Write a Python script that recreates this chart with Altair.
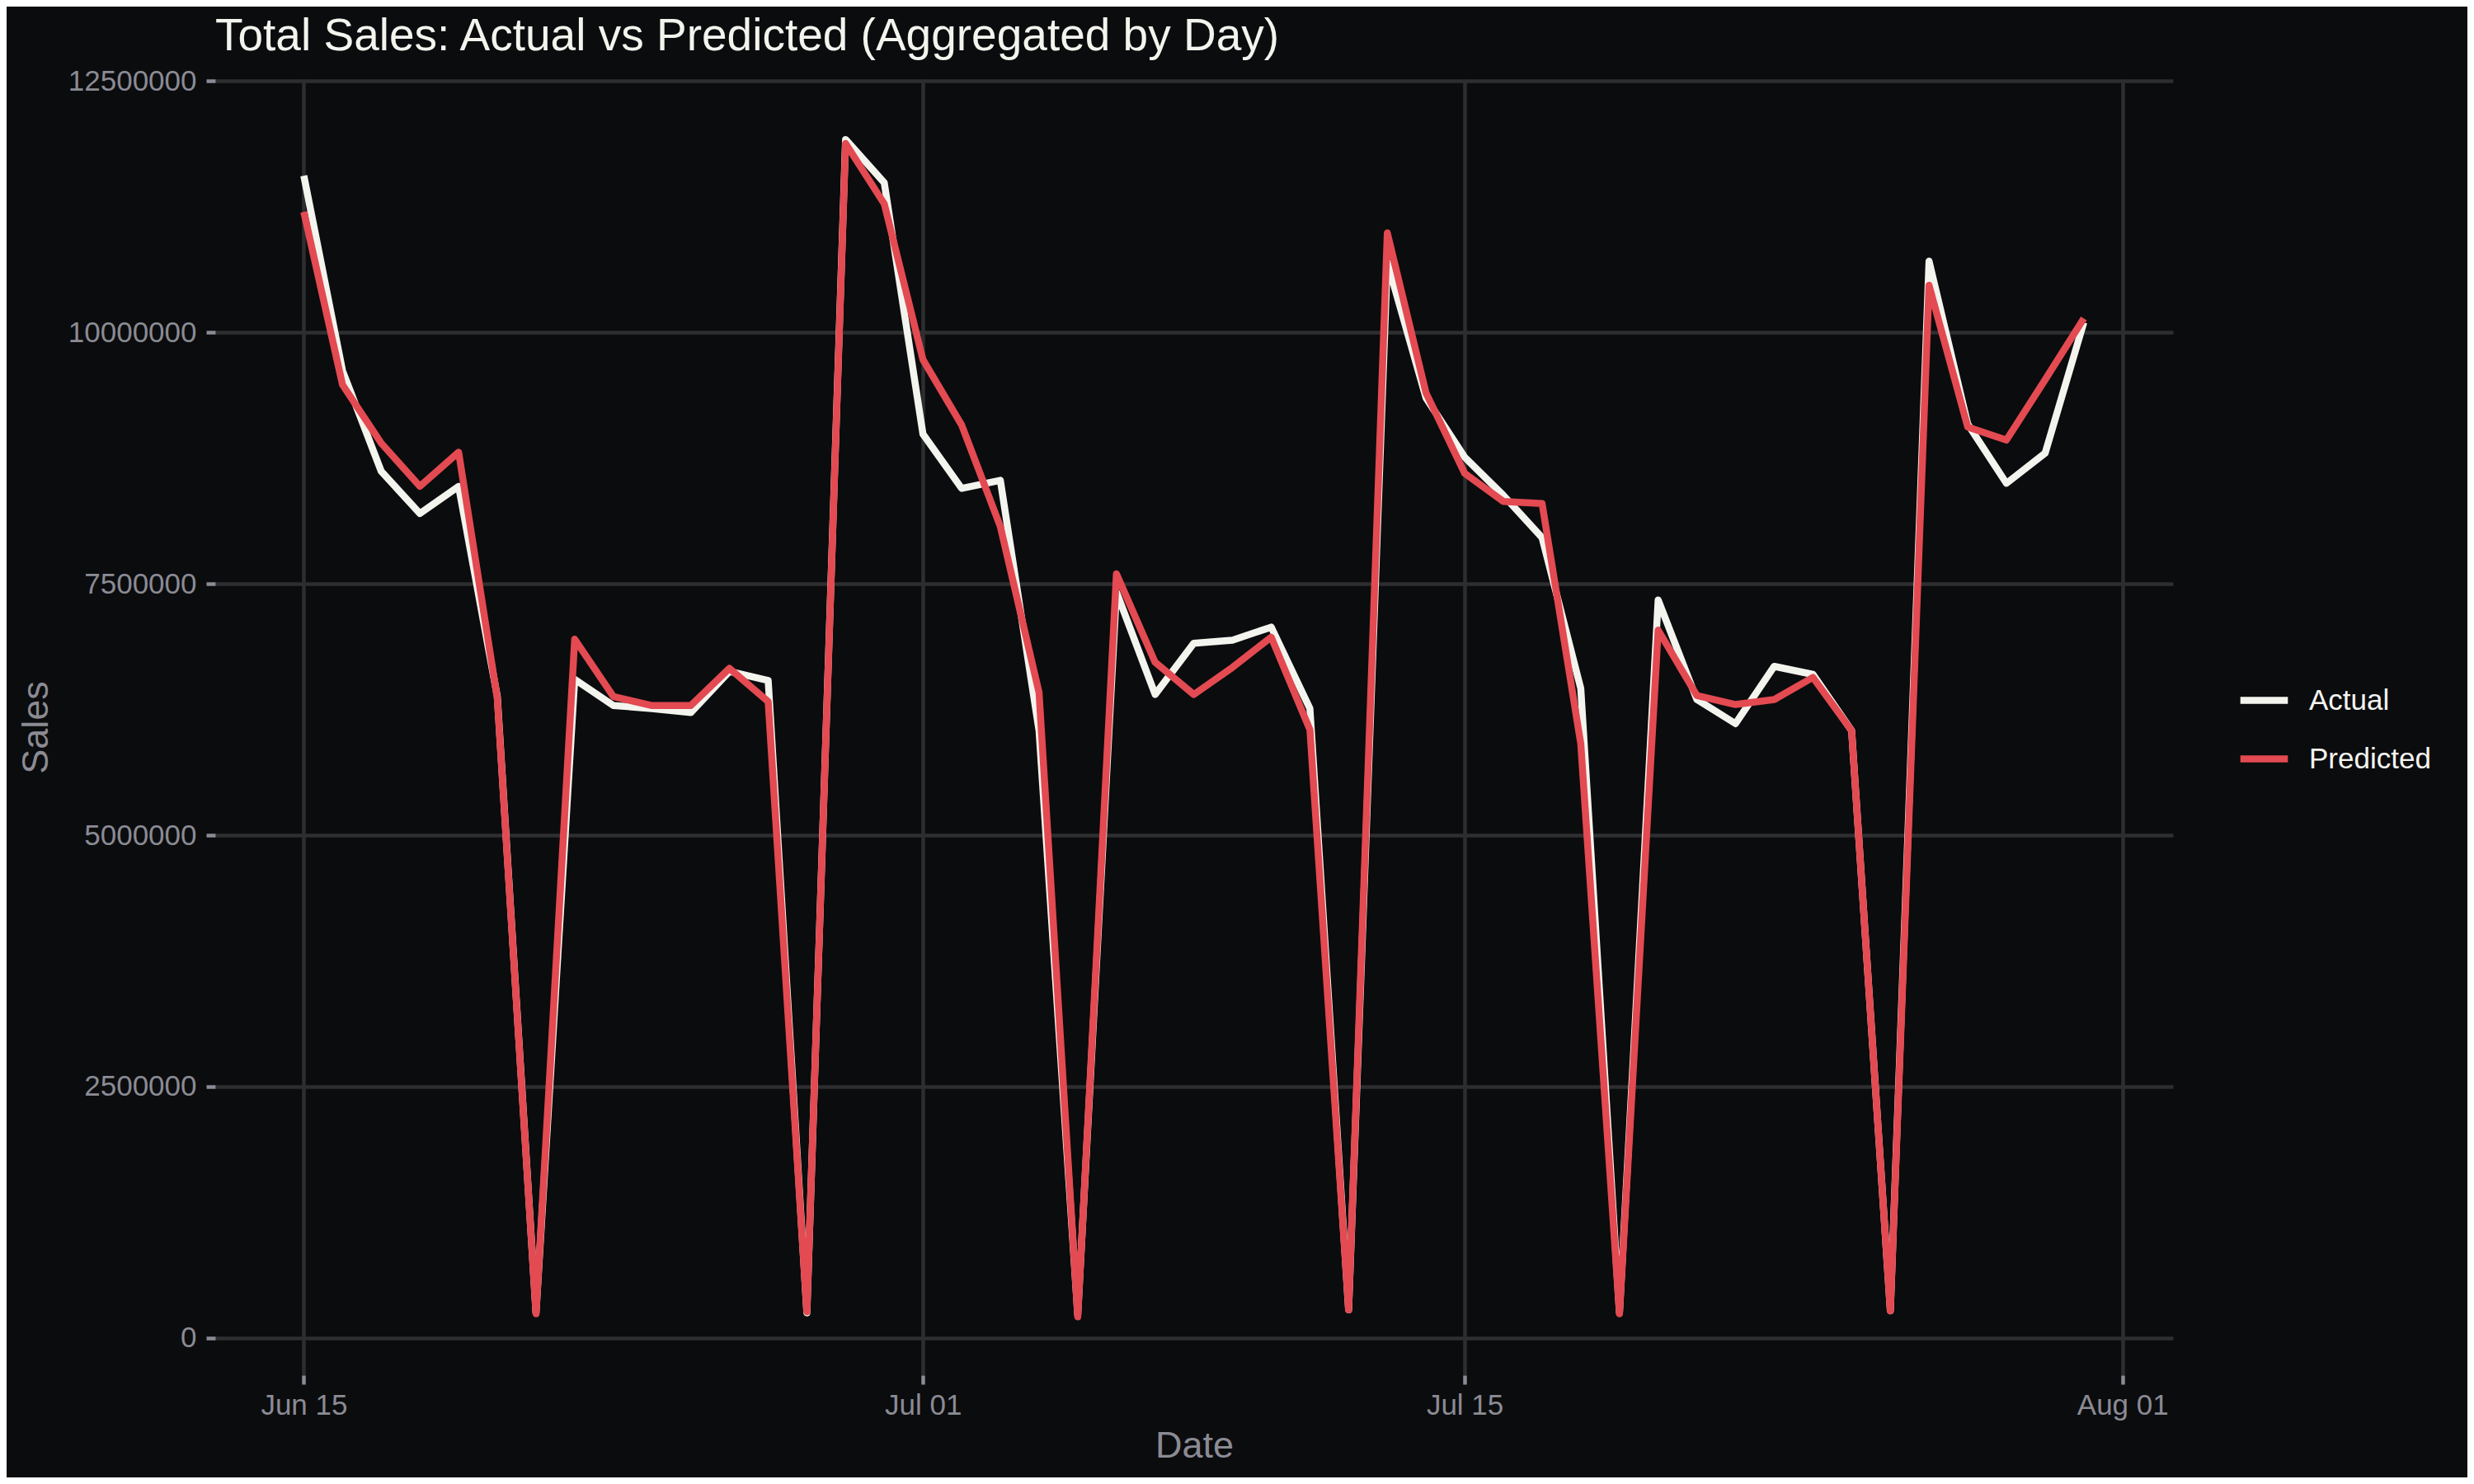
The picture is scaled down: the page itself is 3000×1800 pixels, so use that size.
import pandas as pd
import altair as alt

# daily totals, in millions
dates = pd.date_range("2015-06-15", "2015-07-31", freq="D").strftime("%Y-%m-%d").tolist()

actual = [11.56, 9.62, 8.62, 8.20, 8.47, 6.38, 0.25, 6.55, 6.29, 6.26, 6.22, 6.63, 6.54, 0.25,
          11.92, 11.49, 8.99, 8.45, 8.53, 6.04, 0.23, 7.42, 6.40, 6.91, 6.94, 7.07, 6.26, 0.28,
          10.70, 9.35, 8.76, 8.38, 7.96, 6.46, 0.25, 7.34, 6.35, 6.11, 6.68, 6.60, 6.04, 0.27,
          10.71, 9.09, 8.50, 8.80, 10.10]

predicted = [11.20, 9.48, 8.90, 8.47, 8.81, 6.36, 0.24, 6.95, 6.38, 6.29, 6.29, 6.66, 6.33, 0.26,
             11.88, 11.28, 9.73, 9.08, 8.07, 6.42, 0.21, 7.60, 6.72, 6.40, 6.67, 6.97, 6.05, 0.28,
             10.99, 9.40, 8.60, 8.32, 8.30, 5.91, 0.24, 7.04, 6.39, 6.30, 6.35, 6.57, 6.04, 0.27,
             10.47, 9.06, 8.93, 9.53, 10.14]

series = ["Actual", "Predicted"]
series_colors = ["#f4f4ef", "#e34a51"]
y_ticks = [0, 2500000, 5000000, 7500000, 10000000, 12500000]

# long format for the colour legend
df = pd.concat([
    pd.DataFrame({"Date": dates, "Sales": [v * 1e6 for v in actual], "Type": "Actual"}),
    pd.DataFrame({"Date": dates, "Sales": [v * 1e6 for v in predicted], "Type": "Predicted"}),
])

bg = "#0b0c0e"
grey = "#8b8b94"
grid = "#2e2e31"
font = "Liberation Sans"

x_ticks = [
    alt.DateTime(year=2015, month=6, date=15, utc=True),
    alt.DateTime(year=2015, month=7, date=1, utc=True),
    alt.DateTime(year=2015, month=7, date=15, utc=True),
    alt.DateTime(year=2015, month=8, date=1, utc=True),
]
x_domain = [
    alt.DateTime(year=2015, month=6, date=12, hours=17, minutes=3, utc=True),
    alt.DateTime(year=2015, month=8, date=2, hours=7, minutes=19, utc=True),
]

chart = alt.Chart(df).mark_line(strokeWidth=8.5, strokeCap="butt", strokeJoin="round").encode(
    x=alt.X("Date:T",
            scale=alt.Scale(type="utc", domain=x_domain, nice=False),
            axis=alt.Axis(values=x_ticks, format="%b %d", title="Date",
                          labelPadding=8, titleY=99, titleBaseline="alphabetic")),
    y=alt.Y("Sales:Q",
            scale=alt.Scale(domain=[-370000, 12520000], nice=False, zero=False),
            axis=alt.Axis(values=y_ticks, format="d", title="Sales",
                          labelPadding=12, titleX=-204, titleY=786, titleAngle=270,
                          titleAlign="center", titleBaseline="alphabetic")),
    color=alt.Color("Type:N",
                    scale=alt.Scale(domain=series, range=series_colors),
                    legend=alt.Legend(title=None, orient="none", legendX=2451, legendY=720,
                                      symbolType="stroke", symbolSize=3318, symbolStrokeWidth=8.5,
                                      labelFontSize=35, labelColor="#f4f4ef", labelFont=font,
                                      labelOffset=21, rowPadding=19, padding=0)),
).properties(
    width=2374,
    height=1572,
    autosize=alt.AutoSizeParams(type="none"),
    padding={"left": 253, "top": 88, "right": 357, "bottom": 124},
    title=alt.TitleParams("Total Sales: Actual vs Predicted (Aggregated by Day)",
                          anchor="start", frame="group", fontSize=55, color="#f4f4ef",
                          font=font, fontWeight="normal", baseline="alphabetic",
                          offset=17, dy=52),
).configure(
    background=bg,
).configure_view(
    stroke=None,
    fill=bg,
).configure_axis(
    labelFont=font,
    labelFontSize=35,
    labelColor=grey,
    titleFont=font,
    titleFontSize=45,
    titleFontWeight="normal",
    titleColor=grey,
    tickSize=11,
    tickWidth=4.5,
    tickColor=grey,
    gridColor=grid,
    gridWidth=4.5,
    domain=False,
)

chart.save("out.html", embed_options={"renderer": "svg", "actions": False})
